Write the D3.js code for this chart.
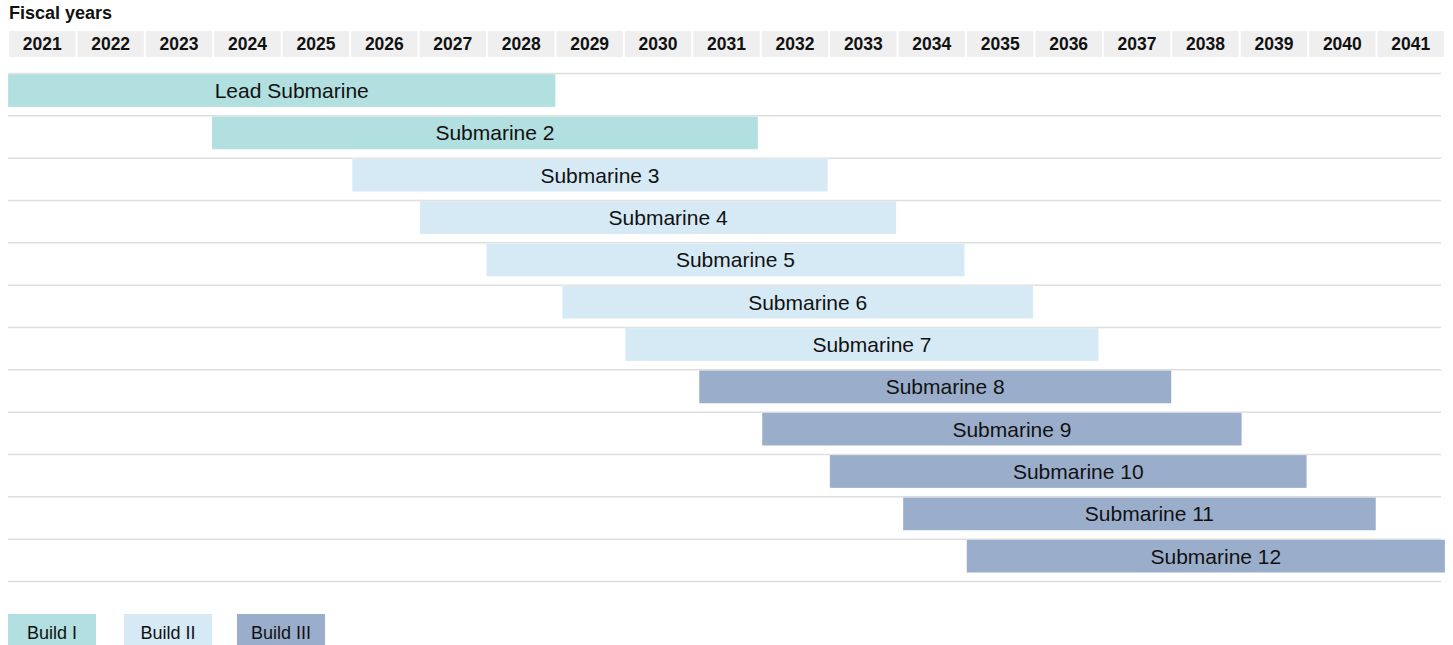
<!DOCTYPE html>
<html>
<head>
<meta charset="utf-8">
<script src="https://cdn.jsdelivr.net/npm/d3@7"></script>
<style>
  body { margin: 0; background: #fff; }
  text { font-family: "Liberation Sans", Arial, sans-serif; fill: #111; }
</style>
</head>
<body>
<div id="chart"></div>
<script>
var years = d3.range(2021, 2042);
var subs = ["Lead Submarine", "Submarine 2", "Submarine 3", "Submarine 4", "Submarine 5", "Submarine 6",
            "Submarine 7", "Submarine 8", "Submarine 9", "Submarine 10", "Submarine 11", "Submarine 12"];
var starts = [2021.0, 2023.98, 2026.03, 2027.02, 2027.99, 2029.1, 2030.02, 2031.1, 2032.02, 2033.01, 2034.08, 2035.01];
var ends = [2029.0, 2031.96, 2032.98, 2033.98, 2034.98, 2035.98, 2036.94, 2038.0, 2039.03, 2039.98, 2040.99, 2042.0];
var builds = ["Build I", "Build I", "Build II", "Build II", "Build II", "Build II",
              "Build II", "Build III", "Build III", "Build III", "Build III", "Build III"];
var buildNames = ["Build I", "Build II", "Build III"];

var width = 1453, height = 645;

var svg = d3.select("#chart").append("svg")
  .attr("width", width)
  .attr("height", height);

var x = d3.scaleLinear().domain([2021, 2042]).range([8, 1445]);
var y = d3.scaleBand().domain(subs).range([73, 581]).paddingInner(0).paddingOuter(0);

var color = d3.scaleOrdinal()
  .domain(buildNames)
  .range(["#b2dfdf", "#d6eaf6", "#9aaecb"]);

svg.append("text")
  .attr("x", 9)
  .attr("y", 19)
  .style("font-weight", "bold")
  .style("font-size", "18px")
  .text("Fiscal years");

// year header
var head = svg.selectAll(".yr")
  .data(years)
  .enter().append("g")
  .attr("class", "yr");

head.append("rect")
  .attr("x", function(d) { return x(d) + 1; })
  .attr("y", 31)
  .attr("width", function(d) { return x(d + 1) - x(d) - 2; })
  .attr("height", 26)
  .style("fill", "#efefef");

head.append("text")
  .attr("x", function(d) { return x(d + 0.5); })
  .attr("y", 50)
  .attr("text-anchor", "middle")
  .style("font-weight", "bold")
  .style("font-size", "17.5px")
  .text(function(d) { return d; });

// row lines
var lines = subs.map(function(d) { return y(d); }).concat([581]);
svg.selectAll(".rowline")
  .data(lines)
  .enter().append("line")
  .attr("class", "rowline")
  .attr("x1", 8)
  .attr("x2", 1441)
  .attr("y1", function(d) { return d + 0.5; })
  .attr("y2", function(d) { return d + 0.5; })
  .style("stroke", "#dedede")
  .style("stroke-width", 1.5);

// bars
var bar = svg.selectAll(".bar")
  .data(subs)
  .enter().append("g")
  .attr("class", "bar");

bar.append("rect")
  .attr("x", function(d, i) { return x(starts[i]); })
  .attr("y", function(d) { return y(d) + 1; })
  .attr("width", function(d, i) { return x(ends[i]) - x(starts[i]); })
  .attr("height", 33)
  .style("fill", function(d, i) { return color(builds[i]); })
  .style("stroke", "#ffffff")
  .style("stroke-opacity", 0.5)
  .style("stroke-width", 0.5);

bar.append("text")
  .attr("x", function(d, i) { return (x(starts[i]) + x(ends[i])) / 2 + 10; })
  .attr("y", function(d) { return y(d) + 25; })
  .attr("text-anchor", "middle")
  .style("font-size", "21px")
  .text(function(d) { return d; });

// legend
var legX = [8, 124, 237];
var leg = svg.selectAll(".leg")
  .data(buildNames)
  .enter().append("g")
  .attr("class", "leg");

leg.append("rect")
  .attr("x", function(d, i) { return legX[i]; })
  .attr("y", 614)
  .attr("width", 88)
  .attr("height", 40)
  .style("fill", function(d) { return color(d); });

leg.append("text")
  .attr("x", function(d, i) { return legX[i] + 44; })
  .attr("y", 639)
  .attr("text-anchor", "middle")
  .style("font-size", "18px")
  .text(function(d) { return d; });
</script>
</body>
</html>
